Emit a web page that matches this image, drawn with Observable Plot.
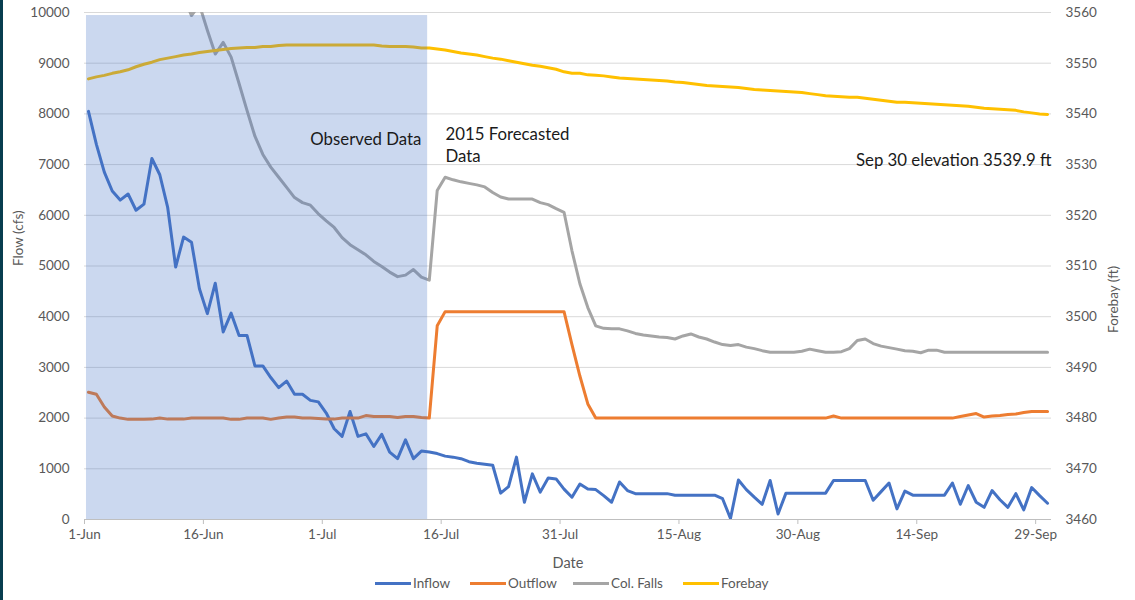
<!DOCTYPE html>
<html><head><meta charset="utf-8">
<script src="https://cdn.jsdelivr.net/npm/d3@7"></script>
<script src="https://cdn.jsdelivr.net/npm/@observablehq/plot@0.6"></script>
<style>
html,body{margin:0;padding:0;background:#fff;}
#wrap{position:relative;width:1135px;height:600px;overflow:hidden;font-family:Lato,sans-serif;}
#edge{position:absolute;left:0;top:0;width:3px;height:600px;background:#073d4f;}
.lg{position:absolute;top:575px;height:16px;line-height:16px;font-size:13.5px;color:#595959;white-space:nowrap;display:flex;align-items:center;}
.sw{display:inline-block;width:36px;height:3px;margin-right:2px;}
</style></head><body>
<div id="wrap"><div id="chart"></div><div id="edge"></div><div id="legend"></div></div>
<script>
// ---- data (daily, 1-Jun-2015 .. 30-Sep-2015) ----
const startDay = "2015-06-01";
const endDay = "2015-10-01";
const seriesNames = ["Inflow", "Outflow", "Col. Falls", "Forebay"];
const seriesColors = ["#4472C4", "#ED7D31", "#A5A5A5", "#FFC000"];

const inflow = [
  8050,7400,6850,6480,6300,6420,6100,6220,7120,6800,
  6150,4980,5570,5470,4550,4060,4660,3700,4070,3630,
  3630,3030,3030,2800,2600,2730,2470,2470,2350,2320,
  2100,1790,1640,2130,1640,1690,1440,1680,1330,1200,
  1570,1200,1350,1330,1300,1250,1230,1200,1140,1110,
  1090,1070,520,650,1230,340,900,540,820,800,
  600,440,700,600,590,470,340,740,570,510,
  510,510,510,510,480,480,480,480,480,480,
  410,20,780,590,440,300,770,110,520,520,
  520,520,520,520,770,770,770,770,770,380,
  550,720,210,560,480,480,480,480,480,720,
  300,670,340,240,570,390,240,510,190,630,
  470,320];

const outflow = [
  2510,2470,2220,2040,2000,1975,1975,1975,1980,2000,
  1980,1980,1980,2000,2000,2000,2000,2000,1975,1975,
  2000,2000,2000,1975,2000,2020,2020,2000,2000,1990,
  1980,1980,2000,2000,2000,2050,2030,2030,2030,2010,
  2030,2030,2010,2000,3820,4100,4100,4100,4100,4100,
  4100,4100,4100,4100,4100,4100,4100,4100,4100,4100,
  4100,3450,2830,2280,2000,2000,2000,2000,2000,2000,
  2000,2000,2000,2000,2000,2000,2000,2000,2000,2000,
  2000,2000,2000,2000,2000,2000,2000,2000,2000,2000,
  2000,2000,2000,2000,2040,2000,2000,2000,2000,2000,
  2000,2000,2000,2000,2000,2000,2000,2000,2000,2000,
  2030,2060,2090,2020,2040,2050,2070,2080,2110,2130,
  2130,2130];

const colFalls = [
  null,null,null,null,null,null,null,null,null,null,
  null,null,10300,9940,10150,9650,9180,9410,9120,8600,
  8070,7560,7200,6950,6750,6550,6350,6250,6200,6030,
  5890,5760,5560,5420,5320,5220,5090,4990,4880,4790,
  4820,4930,4780,4720,6490,6750,6700,6660,6630,6600,
  6560,6450,6360,6320,6320,6320,6320,6250,6210,6130,
  6060,5300,4650,4180,3820,3770,3760,3760,3720,3670,
  3640,3620,3600,3590,3560,3620,3660,3600,3560,3500,
  3450,3430,3450,3400,3370,3330,3300,3300,3300,3300,
  3320,3360,3330,3300,3300,3310,3370,3530,3560,3470,
  3420,3390,3360,3330,3320,3290,3340,3340,3300,3300,
  3300,3300,3300,3300,3300,3300,3300,3300,3300,3300,
  3300,3300];

const forebay = [
  3546.9,3547.3,3547.6,3548.0,3548.3,3548.7,3549.3,3549.8,3550.2,3550.7,
  3551.0,3551.3,3551.6,3551.8,3552.1,3552.3,3552.5,3552.7,3552.9,3553.0,
  3553.1,3553.1,3553.3,3553.3,3553.5,3553.6,3553.6,3553.6,3553.6,3553.6,
  3553.6,3553.6,3553.6,3553.6,3553.6,3553.6,3553.6,3553.4,3553.3,3553.3,
  3553.3,3553.2,3553.0,3553.0,3552.8,3552.6,3552.3,3552.0,3551.8,3551.6,
  3551.3,3551.0,3550.8,3550.5,3550.2,3549.9,3549.6,3549.4,3549.1,3548.8,
  3548.3,3548.0,3548.0,3547.7,3547.6,3547.5,3547.3,3547.1,3547.0,3546.9,
  3546.8,3546.7,3546.6,3546.5,3546.3,3546.2,3546.0,3545.8,3545.6,3545.5,
  3545.4,3545.3,3545.2,3545.0,3544.8,3544.7,3544.6,3544.5,3544.4,3544.3,
  3544.2,3544.0,3543.8,3543.6,3543.5,3543.4,3543.3,3543.3,3543.1,3542.9,
  3542.7,3542.5,3542.3,3542.3,3542.2,3542.1,3542.0,3541.9,3541.8,3541.7,
  3541.6,3541.5,3541.3,3541.1,3541.0,3540.9,3540.8,3540.7,3540.4,3540.2,
  3540.0,3539.9];

const flowTicks = [0,1000,2000,3000,4000,5000,6000,7000,8000,9000,10000];
const elevTicks = [3460,3470,3480,3490,3500,3510,3520,3530,3540,3550,3560];
const dateTicks = ["2015-06-01","2015-06-16","2015-07-01","2015-07-16","2015-07-31","2015-08-15","2015-08-30","2015-09-14","2015-09-29"];

const observedSpan = [{start: "2015-06-01T06:00Z", end: "2015-07-14T07:00Z", top: 9940}];
const notesEnd = [
  {text: "Observed Data", date: "2015-07-13T12:00Z", value: 7535},
  {text: "Sep 30 elevation 3539.9 ft", date: "2015-10-01T00:00Z", value: 7120}
];
const notesStart = [
  {text: "2015 Forecasted\nData", date: "2015-07-16T13:00Z", value: 7400}
];

// ---- build ----
const elevBase = 3460, elevToFlow = 100;   // secondary axis mapping: 3460..3560 ft -> 0..10000
const t0 = new Date(startDay + "T00:00Z");
const rows = inflow.map((v, i) => ({
  date: d3.utcHour.offset(d3.utcDay.offset(t0, i), 12),
  inflow: v, outflow: outflow[i], colFalls: colFalls[i], forebay: forebay[i]
}));
const toFlow = e => (e - elevBase) * elevToFlow;

const lineOpts = (y, color) => ({
  x: "date", y, stroke: color, strokeWidth: 3, clip: true,
  strokeLinejoin: "round", strokeLinecap: "round"
});
const noteOpts = anchor => ({
  x: d => new Date(d.date), y: "value", text: "text", textAnchor: anchor,
  fill: "#1a1a1a", fontSize: 16.8, lineHeight: 1.31, lineAnchor: "middle"
});

const chart = Plot.plot({
  width: 1135, height: 572,
  marginLeft: 84, marginRight: 84, marginTop: 12, marginBottom: 53,
  style: {fontFamily: "Lato, sans-serif", fontSize: "13.5px", color: "#595959", background: "transparent", overflow: "visible"},
  x: {type: "utc", domain: [new Date(startDay + "T00:00Z"), new Date(endDay + "T00:00Z")]},
  y: {domain: [0, 10000]},
  marks: [
    Plot.gridY({ticks: flowTicks, stroke: "#d9d9d9", strokeOpacity: 1, strokeWidth: 1}),
    Plot.ruleY([0], {stroke: "#bfbfbf", strokeWidth: 1}),
    Plot.line(rows, lineOpts("inflow", seriesColors[0])),
    Plot.line(rows, lineOpts("outflow", seriesColors[1])),
    Plot.line(rows, lineOpts("colFalls", seriesColors[2])),
    Plot.line(rows, lineOpts(d => toFlow(d.forebay), seriesColors[3])),
    Plot.rect(observedSpan, {x1: d => new Date(d.start), x2: d => new Date(d.end), y1: () => 0, y2: "top", fill: "#4472C4", fillOpacity: 0.28}),
    Plot.axisY({anchor: "left", ticks: flowTicks, tickFormat: d => String(d), tickSize: 0, tickPadding: 15, label: null, fill: "#595959"}),
    Plot.axisY({anchor: "right", ticks: elevTicks.map(toFlow), tickFormat: d => String(elevBase + d / elevToFlow), tickSize: 0, tickPadding: 14, label: null, fill: "#595959"}),
    Plot.axisX({ticks: dateTicks.map(s => new Date(s + "T00:00Z")), tickFormat: d3.utcFormat("%-d-%b"), tickSize: 5, tickPadding: 5, stroke: "#bfbfbf", fill: "#595959", label: null}),
    Plot.text(notesEnd, noteOpts("end")),
    Plot.text(notesStart, noteOpts("start")),
    Plot.text(["Flow (cfs)"], {frameAnchor: "left", dx: -66, rotate: -90, fill: "#595959", fontSize: 13.5}),
    Plot.text(["Forebay (ft)"], {frameAnchor: "right", dx: 62, rotate: -90, fill: "#595959", fontSize: 13.5}),
    Plot.text(["Date"], {frameAnchor: "bottom", dy: 48, fill: "#595959", fontSize: 14.5})
  ]
});
document.getElementById("chart").appendChild(chart);

// ---- legend ----
const legendLeft = [375, 470, 573, 683];
const legend = document.getElementById("legend");
seriesNames.forEach((name, i) => {
  const item = document.createElement("div");
  item.className = "lg";
  item.style.left = legendLeft[i] + "px";
  item.innerHTML = `<span class="sw" style="background:${seriesColors[i]}"></span>${name}`;
  legend.appendChild(item);
});
</script>
</body></html>
